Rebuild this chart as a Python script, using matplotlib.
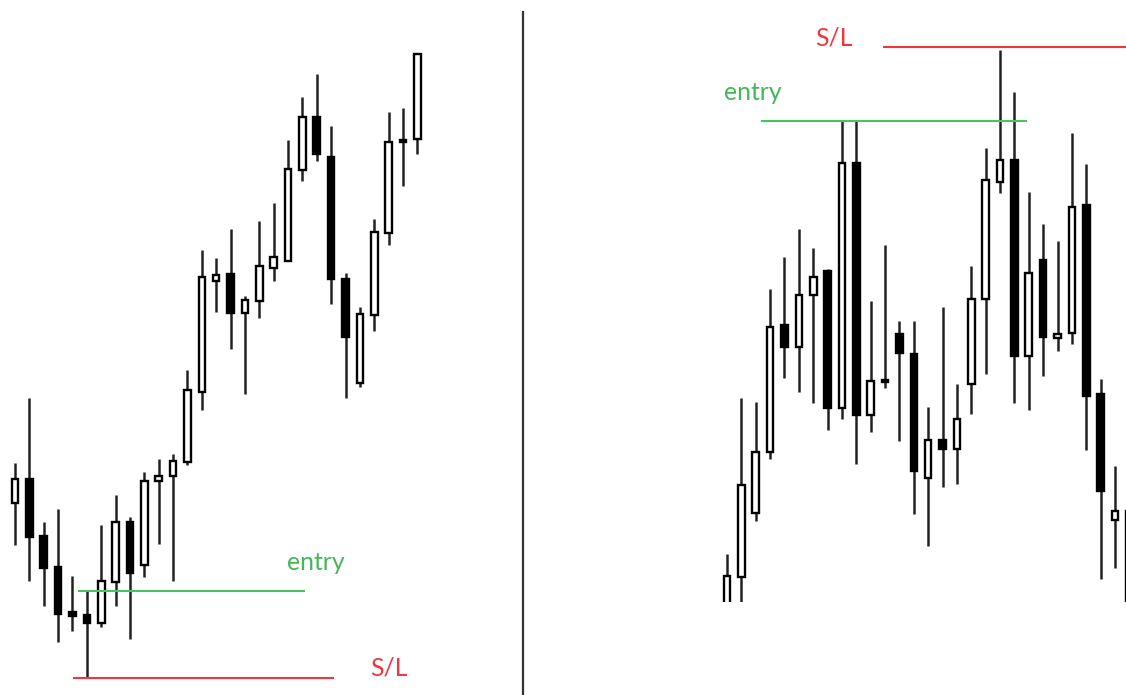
import matplotlib
matplotlib.use("Agg")
import matplotlib.pyplot as plt
from matplotlib.patches import Rectangle
from matplotlib.lines import Line2D

# ---- data (price units) ----
left_open  = [197, 221, 164, 133, 88, 85, 77, 118, 178, 135, 219, 224, 238, 308, 419, 426, 387, 399, 432, 439, 530, 583, 543, 421, 317, 385, 467, 560, 561]
left_high  = [237, 302, 178, 191, 124, 109, 175, 205, 183, 228, 241, 246, 330, 450, 442, 471, 404, 479, 497, 560, 603, 626, 574, 427, 393, 481, 588, 592, 647]
left_low   = [155, 119, 94, 58, 69, 22, 73, 94, 61, 123, 156, 119, 235, 290, 388, 351, 306, 382, 419, 439, 519, 539, 396, 302, 313, 369, 455, 514, 546]
left_close = [221, 163, 132, 86, 84, 77, 119, 178, 127, 219, 224, 239, 310, 423, 425, 387, 400, 434, 443, 531, 583, 546, 421, 363, 386, 468, 558, 558, 646]

right_open  = [85, 123, 187, 248, 375, 353, 405, 429, 292, 537, 285, 318, 366, 346, 222, 260, 251, 316, 401, 518, 540, 344, 440, 362, 367, 495, 306, 180, 80]
right_high  = [146, 302, 298, 411, 443, 471, 452, 431, 579, 579, 399, 455, 379, 379, 293, 393, 316, 434, 552, 650, 608, 508, 476, 459, 567, 536, 321, 234, 189]
right_low   = [80, 80, 179, 241, 322, 308, 297, 270, 281, 236, 268, 312, 259, 186, 154, 213, 216, 286, 326, 507, 297, 290, 324, 349, 356, 250, 121, 132, 80]
right_close = [124, 215, 248, 373, 353, 405, 423, 292, 537, 285, 319, 320, 347, 229, 260, 251, 281, 401, 520, 540, 344, 427, 363, 366, 493, 304, 209, 189, 189]

left_entry, left_sl = 109, 22
right_entry, right_sl = 579, 653
labels = ["entry", "S/L"]

GREEN = "#4cc35e"
GREEN_T = "#45b75a"
RED = "#f0373f"

W, H = 1126, 695
fig = plt.figure(figsize=(W / 100, H / 100), dpi=100)
fig.patch.set_facecolor("white")

step = 14.37

def px_ax(x0, x1, ytop, ybot):
    return fig.add_axes([x0 / W, 1 - ybot / H, (x1 - x0) / W, (ybot - ytop) / H])

axL = px_ax(0, 522, 0, 695)
axR = px_ax(524, 1126, 0, 602)

axL.set_xlim(-15 / step, (522 - 15) / step)
axL.set_ylim(5, 700)
axR.set_xlim((524 - 727) / step, (1126 - 727) / step)
axR.set_ylim(98, 700)

for ax in (axL, axR):
    ax.axis("off")

def candles(ax, o, h, l, c):
    bw = 0.46
    for i, (oo, hh, ll, cc) in enumerate(zip(o, h, l, c)):
        ax.vlines(i, ll, hh, color="#222222", lw=1.8, zorder=2)
        bull = cc >= oo
        lo, hi = min(oo, cc), max(oo, cc)
        rect = Rectangle((i - bw / 2, lo), bw, max(hi - lo, 1.5),
                         facecolor="white" if bull else "black",
                         edgecolor="black", lw=1.7, zorder=3)
        ax.add_patch(rect)

candles(axL, left_open, left_high, left_low, left_close)
candles(axR, right_open, right_high, right_low, right_close)

# levels
axL.hlines(left_entry, 4.38, 20.18, color=GREEN, lw=1.5, zorder=4)
axL.hlines(left_sl, 4.04, 22.2, color=RED, lw=1.5, zorder=4)
axR.hlines(right_sl, 10.86, 28.5, color=RED, lw=1.5, zorder=4)
axR.hlines(right_entry, 2.37, 20.88, color=GREEN, lw=1.5, zorder=4)

fs = 17.8
fam = ["Lato", "DejaVu Sans"]
axL.text(18.93, 130, labels[0], color=GREEN_T, fontsize=fs, family=fam, ha="left", va="baseline")
axL.text(24.7, 25, labels[1], color=RED, fontsize=fs, family=fam, ha="left", va="baseline")
axR.text(6.12, 654, labels[1], color=RED, fontsize=fs, family=fam, ha="left", va="baseline")
axR.text(-0.21, 600, labels[0], color=GREEN_T, fontsize=fs, family=fam, ha="left", va="baseline")

# divider
fig.add_artist(Line2D([523 / W, 523 / W], [0, 1 - 12 / H], color="#333333", lw=1.6))

fig.savefig("out.png", dpi=100, facecolor="white")
